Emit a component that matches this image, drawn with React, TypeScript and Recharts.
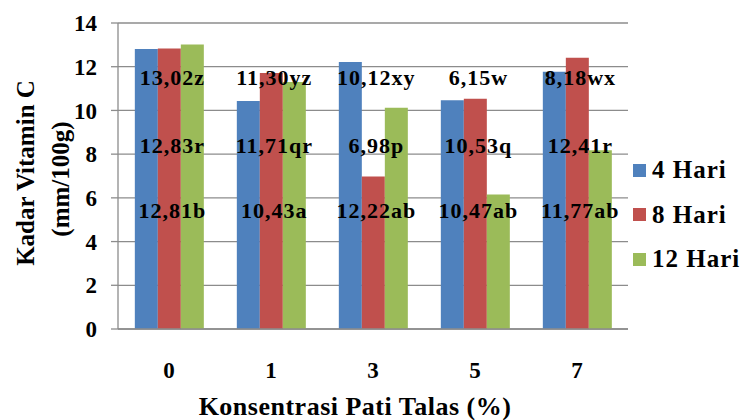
import { BarChart, Bar, XAxis, YAxis, CartesianGrid, Legend, LabelList } from 'recharts'

const categories = ['0', '1', '3', '5', '7']
const hari4 = [12.81, 10.43, 12.22, 10.47, 11.77]
const hari8 = [12.83, 11.71, 6.98, 10.53, 12.41]
const hari12 = [13.02, 11.3, 10.12, 6.15, 8.18]
const labels4 = ['12,81b', '10,43a', '12,22ab', '10,47ab', '11,77ab']
const labels8 = ['12,83r', '11,71qr', '6,98p', '10,53q', '12,41r']
const labels12 = ['13,02z', '11,30yz', '10,12xy', '6,15w', '8,18wx']
// data-unit height where each row of labels sits
const labelLevels = [5.4, 8.4, 11.5]
const yTicks = [0, 2, 4, 6, 8, 10, 12, 14]

const data = categories.map((c, i) => ({
  name: c,
  h4: hari4[i],
  h8: hari8[i],
  h12: hari12[i],
}))

const series = [
  { key: 'h4', name: '4 Hari', color: '#4F81BD', labels: labels4 },
  { key: 'h8', name: '8 Hari', color: '#C0504D', labels: labels8 },
  { key: 'h12', name: '12 Hari', color: '#9BBB59', labels: labels12 },
]

const font = "'Liberation Serif', 'Times New Roman', Times, serif"
const textStyle = { fontFamily: font, fontWeight: 700, fill: '#000' }

const makeLabel = (s: number) => (props: any) => {
  const { x, y, width, height, value, index } = props
  if (!value) return null
  const base = y + height
  const ppu = height / value
  const cx = x + width / 2 + (1 - s) * width + 3
  const cy = base - labelLevels[s] * ppu
  return (
    <text
      key={index}
      x={cx}
      y={cy}
      textAnchor="middle"
      dominantBaseline="central"
      style={{ ...textStyle, fontSize: 22, letterSpacing: 1 }}
    >
      {series[s].labels[index]}
    </text>
  )
}

const YTitle = (props: any) => {
  const { viewBox } = props
  const cy = viewBox.y + viewBox.height / 2
  return (
    <g>
      <text
        x={25}
        y={cy - 3}
        transform={`rotate(-90 25 ${cy - 3})`}
        textAnchor="middle"
        dominantBaseline="central"
        style={{ ...textStyle, fontSize: 25 }}
      >
        Kadar Vitamin C
      </text>
      <text
        x={60}
        y={cy + 3}
        transform={`rotate(-90 60 ${cy + 3})`}
        textAnchor="middle"
        dominantBaseline="central"
        style={{ ...textStyle, fontSize: 25 }}
      >
        (mm/100g)
      </text>
    </g>
  )
}

const XTitle = (props: any) => {
  const { viewBox } = props
  const cx = viewBox.x + viewBox.width / 2 - 18
  return (
    <text
      x={cx}
      y={406}
      textAnchor="middle"
      dominantBaseline="central"
      style={{ ...textStyle, fontSize: 26, letterSpacing: 0.5 }}
    >
      Konsentrasi Pati Talas (%)
    </text>
  )
}

const LegendBox = () => (
  <div style={{ fontFamily: font, fontWeight: 700, fontSize: 25, letterSpacing: 1, width: 108, whiteSpace: 'nowrap' }}>
    {series.map((s) => (
      <div key={s.key} style={{ display: 'flex', alignItems: 'center', height: 44.5 }}>
        <span style={{ width: 13, height: 13, background: s.color, marginRight: 6, flex: 'none' }} />
        <span>{s.name}</span>
      </div>
    ))}
  </div>
)

export default function App() {
  return (
    <div style={{ position: 'absolute', left: 0, top: 0, width: 741, height: 420, background: '#fff' }}>
      <BarChart
        width={741}
        height={420}
        data={data}
        margin={{ top: 23, right: 5, left: 0, bottom: 0 }}
        barCategoryGap="16.5%"
        barGap={0}
      >
        <CartesianGrid vertical={false} stroke="#8c8c8c" strokeWidth={1.3} />
        <XAxis
          dataKey="name"
          height={91}
          tickLine={false}
          axisLine={{ stroke: '#8c8c8c', strokeWidth: 1.3 }}
          tickMargin={27}
          tick={{ ...textStyle, fontSize: 23 }}
          label={<XTitle />}
        />
        <YAxis
          width={118}
          domain={[0, 14]}
          ticks={yTicks}
          interval={0}
          tickSize={7}
          tickMargin={14}
          tickLine={{ stroke: '#8c8c8c', strokeWidth: 1.3 }}
          axisLine={{ stroke: '#8c8c8c', strokeWidth: 1.3 }}
          tick={{ ...textStyle, fontSize: 23 }}
          label={<YTitle />}
        />
        <Legend
          layout="vertical"
          align="right"
          verticalAlign="middle"
          content={<LegendBox />}
          wrapperStyle={{ left: 633, top: 148, width: 108 }}
        />
        {series.map((s, i) => (
          <Bar key={s.key} dataKey={s.key} name={s.name} fill={s.color} isAnimationActive={false}>
            <LabelList dataKey={s.key} content={makeLabel(i)} />
          </Bar>
        ))}
      </BarChart>
    </div>
  )
}
